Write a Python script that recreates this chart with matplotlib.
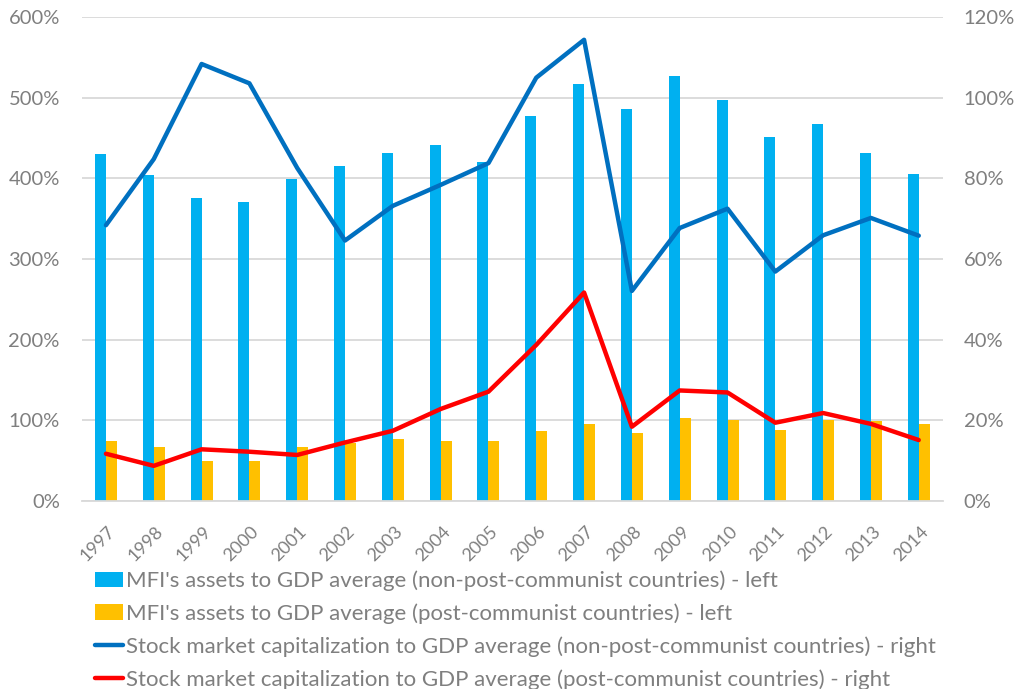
import numpy as np
from matplotlib import pyplot as plt
from matplotlib.ticker import FuncFormatter

years = [str(y) for y in range(1997, 2015)]

# MFI assets to GDP (left axis, %)
mfi_non_post = [430, 404, 376, 371, 399, 416, 431, 441, 420, 478, 517, 486, 527, 497, 452, 468, 431, 405]
mfi_post = [74, 67, 49, 50, 67, 72, 77, 74, 74, 87, 96, 84, 103, 100, 88, 100, 99, 96]

# stock market capitalization to GDP (right axis, %)
stock_non_post = [68.4, 84.8, 108.4, 103.6, 82.6, 64.6, 73.2, 78.4, 83.8, 105.0, 114.4, 52.1,
                  67.7, 72.5, 56.9, 65.9, 70.2, 65.8]
stock_post = [11.7, 8.7, 12.8, 12.2, 11.4, 14.5, 17.4, 22.8, 27.1, 38.7, 51.7, 18.4,
              27.4, 26.9, 19.4, 21.8, 19.1, 15.1]

labels = ["MFI's assets to GDP average (non-post-communist countries) - left",
          "MFI's assets to GDP average (post-communist countries) - left",
          "Stock market capitalization to GDP average (non-post-communist countries) - right",
          "Stock market capitalization to GDP average (post-communist countries) - right"]

plt.rcParams['font.family'] = ['Lato', 'DejaVu Sans']
text_color = '#7f7f7f'

fig = plt.figure(figsize=(10.18, 6.89), dpi=100)
ax = fig.add_axes([0.0806, 0.273, 0.8454, 0.702])
ax2 = ax.twinx()

x = np.arange(len(years))
w = 0.23
b1 = ax.bar(x - w / 2, mfi_non_post, w, color='#00b0f0', label=labels[0], zorder=2)
b2 = ax.bar(x + w / 2, mfi_post, w, color='#ffc000', label=labels[1], zorder=2)
l1, = ax2.plot(x, stock_non_post, color='#0070c0', lw=3.2, label=labels[2], solid_capstyle='round')
l2, = ax2.plot(x, stock_post, color='#ff0000', lw=3.2, label=labels[3], solid_capstyle='round')

ax.set_xlim(-0.5, len(years) - 0.5)
ax.set_ylim(0, 600)
ax2.set_ylim(0, 120)
ax.set_yticks(np.arange(0, 601, 100))
ax2.set_yticks(np.arange(0, 121, 20))
pct = FuncFormatter(lambda v, p: f"{v:.0f}%")
ax.yaxis.set_major_formatter(pct)
ax2.yaxis.set_major_formatter(pct)

ax.grid(axis='y', color='#d9d9d9', lw=1.3, zorder=0)
ax.set_axisbelow(True)
for a in (ax, ax2):
    for s in a.spines.values():
        s.set_visible(False)
    a.tick_params(length=0, labelsize=14.5, colors=text_color)
ax.spines['bottom'].set_visible(True)
ax.spines['bottom'].set_color('#d9d9d9')
ax.spines['bottom'].set_linewidth(1.3)
ax.tick_params(axis='y', pad=16)
ax2.tick_params(axis='y', pad=15)

# year labels placed by hand below the axis, rotated like Excel does
ax.set_xticks(x)
ax.set_xticklabels([])
for i, yr in enumerate(years):
    ax.annotate(yr, xy=(i, 0), xycoords=('data', 'axes fraction'), xytext=(1, -16),
                textcoords='offset points', rotation=45, rotation_mode='anchor',
                ha='right', va='top', fontsize=13, color=text_color, annotation_clip=False)

fig.legend(handles=[b1, b2, l1, l2], loc='upper left', bbox_to_anchor=(0.093, 0.172),
           frameon=False, fontsize=16, labelcolor=text_color, handlelength=1.26,
           handletextpad=0.15, labelspacing=0.55, borderpad=0, borderaxespad=0)

fig.savefig('out.png', dpi=100)
